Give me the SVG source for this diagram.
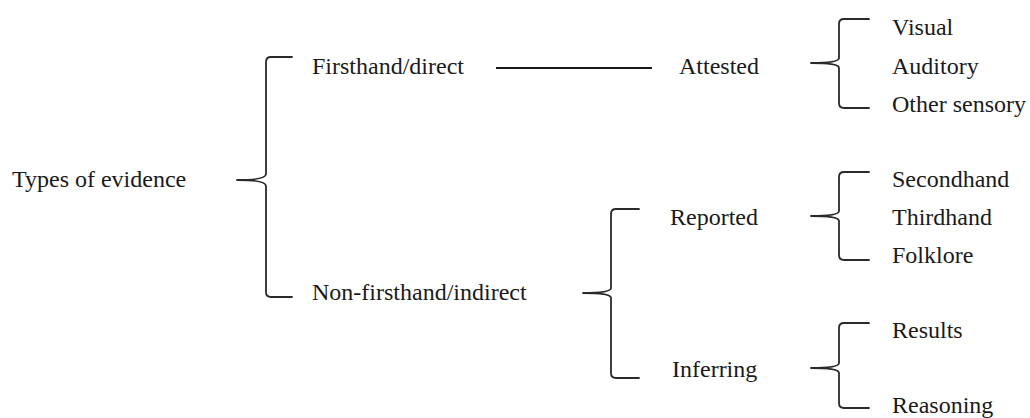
<svg xmlns="http://www.w3.org/2000/svg" width="1030" height="418" viewBox="0 0 1030 418">
<style>
text{font-family:"Liberation Serif","Times New Roman",serif;font-size:24px;fill:#1a1a1a}
.br{fill:none;stroke:#2a2a2a;stroke-width:1.8;stroke-linecap:round;stroke-linejoin:round}
.ln{stroke:#1a1a1a;stroke-width:1.8}
</style>
<rect width="1030" height="418" fill="#fff"/>
<g id="connectors">
<path class="br" d="M292,57 L271,57 Q266,57 266,62 L266,174 Q266,180 237,180 Q266,180 266,186 L266,292 Q266,297 271,297 L292,297"/>
<line class="ln" x1="496" y1="68" x2="652" y2="68"/>
<path class="br" d="M869,19 L844,19 Q839,19 839,24 L839,58 Q839,63 811,63 Q839,63 839,68 L839,103 Q839,108 844,108 L869,108"/>
<path class="br" d="M639,209 L616,209 Q611,209 611,214 L611,288 Q611,293 583,293 Q611,293 611,298 L611,373 Q611,378 616,378 L639,378"/>
<path class="br" d="M869,172 L844,172 Q839,172 839,177 L839,211 Q839,216 811,216 Q839,216 839,221 L839,255 Q839,260 844,260 L869,260"/>
<path class="br" d="M869,323 L844,323 Q839,323 839,328 L839,363 Q839,368 811,368 Q839,368 839,373 L839,403 Q839,408 844,408 L869,408"/>
</g>
<g id="n-types"><text x="12" y="187">Types of evidence</text></g>
<g id="n-firsthand"><text x="312" y="74">Firsthand/direct</text></g>
<g id="n-nonfirsthand"><text x="312" y="300">Non-firsthand/indirect</text></g>
<g id="n-attested"><text x="679" y="74">Attested</text></g>
<g id="n-reported"><text x="670" y="225">Reported</text></g>
<g id="n-inferring"><text x="672" y="377">Inferring</text></g>
<g id="n-visual"><text x="892" y="35">Visual</text></g>
<g id="n-auditory"><text x="892" y="74">Auditory</text></g>
<g id="n-other"><text x="892" y="112">Other sensory</text></g>
<g id="n-secondhand"><text x="892" y="187">Secondhand</text></g>
<g id="n-thirdhand"><text x="892" y="225">Thirdhand</text></g>
<g id="n-folklore"><text x="892" y="263">Folklore</text></g>
<g id="n-results"><text x="892" y="338">Results</text></g>
<g id="n-reasoning"><text x="892" y="413">Reasoning</text></g>
</svg>
